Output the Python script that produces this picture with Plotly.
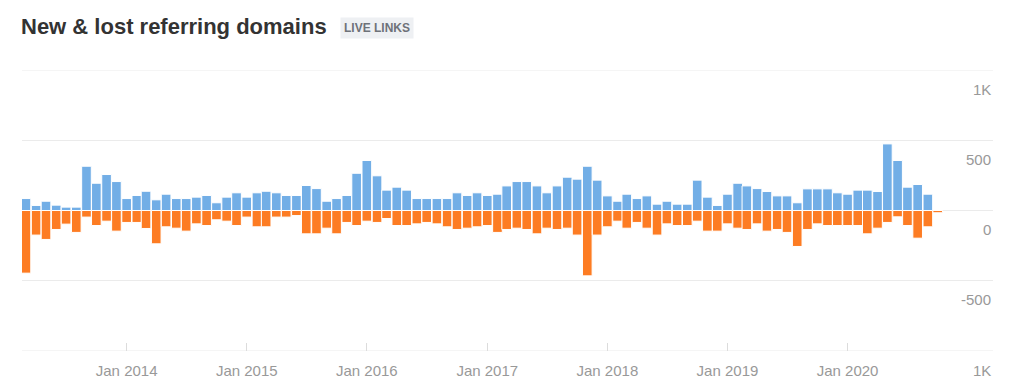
import plotly.graph_objects as go
import pandas as pd

# ---- data (monthly, Mar 2013 .. Oct 2020) ----
start_month = "2013-03-01"
new_domains = [85, 36, 66, 38, 24, 24, 315, 194, 256, 206,
               85, 107, 137, 76, 116, 85, 85, 95, 107, 55,
               95, 126, 95, 126, 137, 126, 107, 107, 178, 156,
               66, 85, 107, 265, 356, 247, 145, 166, 145, 85,
               85, 85, 85, 126, 107, 126, 107, 116, 175, 206,
               206, 175, 126, 175, 237, 223, 315, 216, 104, 66,
               116, 85, 104, 45, 66, 45, 45, 216, 95, 36,
               116, 194, 175, 156, 135, 104, 104, 55, 154, 154,
               154, 126, 116, 145, 145, 135, 474, 356, 166, 185,
               116, 0]
lost_domains = [-446, -175, -206, -135, -97, -156, -47, -107, -76, -147,
                -85, -85, -128, -237, -116, -126, -147, -95, -107, -66,
                -76, -107, -47, -116, -116, -47, -47, -36, -166, -166,
                -126, -166, -85, -107, -76, -85, -57, -107, -107, -95,
                -85, -95, -116, -135, -126, -116, -107, -156, -135, -126,
                -135, -166, -126, -135, -126, -175, -465, -175, -116, -76,
                -126, -85, -126, -175, -95, -107, -107, -76, -147, -147,
                -95, -126, -135, -95, -147, -135, -156, -256, -135, -95,
                -107, -107, -107, -107, -166, -126, -85, -45, -107, -197,
                -116, -16]
months = pd.date_range(start_month, periods=len(new_domains), freq="MS")

year_ticks = ["2014-01-01", "2015-01-01", "2016-01-01", "2017-01-01",
              "2018-01-01", "2019-01-01", "2020-01-01"]
year_labels = ["Jan 2014", "Jan 2015", "Jan 2016", "Jan 2017",
               "Jan 2018", "Jan 2019", "Jan 2020"]
y_ticks = [1000, 500, 0, -500, -1000]
y_labels = ["1K", "500", "0", "-500", "1K"]

BLUE = "#72aee6"
ORANGE = "#fd7c23"
GRID = "#ebebeb"
DAY_MS = 86400000
bar_w = 29.3 * DAY_MS

fig = go.Figure()
fig.add_trace(go.Bar(x=months, y=new_domains, name="New",
                     marker=dict(color=BLUE, line=dict(color="white", width=1)),
                     width=bar_w))
fig.add_trace(go.Bar(x=months, y=lost_domains, name="Lost",
                     marker=dict(color=ORANGE, line=dict(color="white", width=1)),
                     width=bar_w))

FONT = "Liberation Sans, Arial, Helvetica, sans-serif"
TICK_FONT = dict(family=FONT, size=15, color="#999999")

annotations = [
    dict(text="<b>New &amp; lost referring domains</b>",
         xref="paper", yref="paper", x=-3 / 971, y=(351 - 26.5) / 281,
         xanchor="left", yanchor="middle", showarrow=False,
         font=dict(family=FONT, size=22, color="#333333")),
    dict(text="<b>LIVE LINKS</b>",
         xref="paper", yref="paper", x=(340 - 22) / 971, y=(351 - 28) / 281,
         xanchor="left", yanchor="middle", showarrow=False,
         bgcolor="#eef0f3", borderpad=3,
         font=dict(family=FONT, size=12, color="#6e7279")),
]
for v, lab in zip(y_ticks, y_labels):
    annotations.append(dict(text=lab, xref="paper", yref="y", x=1, y=v,
                            xanchor="right", yanchor="middle", yshift=-19,
                            showarrow=False, font=TICK_FONT))

# grid lines at the two range edges (plotly omits edge gridlines)
shapes = [dict(type="line", xref="paper", yref="y", x0=0, x1=1, y0=v, y1=v,
               line=dict(color=GRID, width=1), layer="below")
          for v in (y_ticks[0], y_ticks[-1])]

fig.update_layout(
    width=1024, height=391,
    margin=dict(l=22, r=31, t=70, b=40),
    barmode="relative",
    showlegend=False,
    plot_bgcolor="white", paper_bgcolor="white",
    font=dict(family=FONT, color="#999999", size=15),
    xaxis=dict(
        type="date",
        range=["2013-02-17", "2021-03-18"],
        tickvals=year_ticks, ticktext=year_labels,
        ticks="inside", ticklen=8, tickcolor="#dcdcdc", tickwidth=1,
        showgrid=False, zeroline=False, showline=False,
        ticklabelstandoff=9,
        tickfont=TICK_FONT,
    ),
    yaxis=dict(
        range=[-1000, 1000],
        side="right",
        tickvals=y_ticks,
        showticklabels=False,
        showgrid=True, gridcolor=GRID, gridwidth=1,
        zeroline=True, zerolinecolor=GRID, zerolinewidth=1,
        showline=False, ticks="",
    ),
    annotations=annotations,
    shapes=shapes,
)

fig.write_html("out.html",
               config={"displayModeBar": False},
               post_script="document.body.style.margin='0';document.body.style.overflow='hidden';")
